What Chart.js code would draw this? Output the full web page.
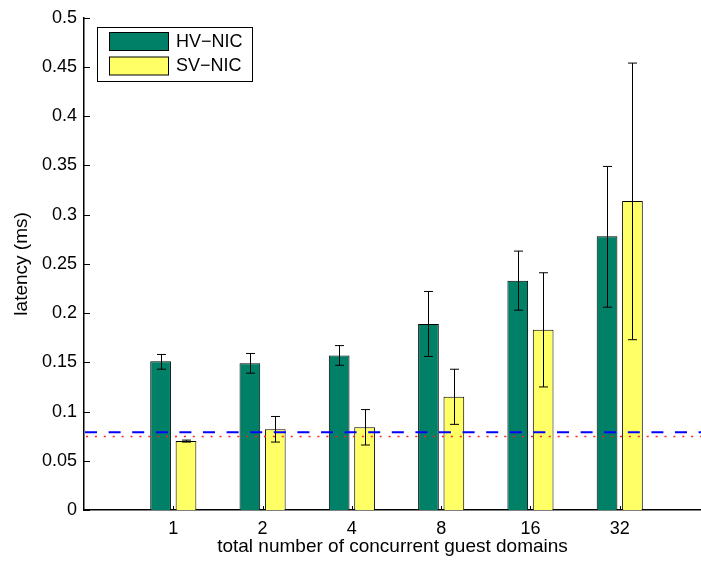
<!DOCTYPE html>
<html>
<head>
<meta charset="utf-8">
<script src="https://cdn.jsdelivr.net/npm/chart.js@4"></script>
<style>
  html, body { margin: 0; padding: 0; background: #fff; overflow: hidden; }
  #wrap { width: 701px; height: 561px; }
</style>
</head>
<body>
<div id="wrap"><canvas id="latencyChart"></canvas></div>
<script>
// Data
const categories = ['1', '2', '4', '8', '16', '32'];
const hvNic     = [0.151, 0.149, 0.157, 0.189, 0.233, 0.278];
const hvNicLow  = [0.143, 0.139, 0.147, 0.156, 0.203, 0.206];
const hvNicHigh = [0.158, 0.159, 0.167, 0.222, 0.263, 0.349];
const svNic     = [0.070, 0.082, 0.084, 0.115, 0.183, 0.314];
const svNicLow  = [0.069, 0.069, 0.066, 0.087, 0.125, 0.173];
const svNicHigh = [0.071, 0.095, 0.102, 0.143, 0.241, 0.454];
const yTicks = [0, 0.05, 0.1, 0.15, 0.2, 0.25, 0.3, 0.35, 0.4, 0.45, 0.5];
const refDashed = 0.079;   // blue dashed line
const refDotted = 0.0747;  // red dotted line

const FONT = '"Liberation Sans", Arial, Helvetica, sans-serif';

// Error bars drawn on top of the bars
const errorBars = {
    id: 'errorBars',
    afterDatasetsDraw(chart) {
        const ctx = chart.ctx;
        const y = chart.scales.y;
        const ranges = [[hvNicLow, hvNicHigh], [svNicLow, svNicHigh]];
        ctx.save();
        ctx.strokeStyle = '#000';
        ctx.lineWidth = 1;
        ranges.forEach((r, d) => {
            chart.getDatasetMeta(d).data.forEach((bar, i) => {
                const x = Math.round(bar.x) + 0.5;
                const y1 = y.getPixelForValue(r[0][i]);
                const y2 = y.getPixelForValue(r[1][i]);
                ctx.beginPath();
                ctx.moveTo(x, y1); ctx.lineTo(x, y2);
                ctx.moveTo(x - 4.5, y1); ctx.lineTo(x + 4.5, y1);
                ctx.moveTo(x - 4.5, y2); ctx.lineTo(x + 4.5, y2);
                ctx.stroke();
            });
        });
        ctx.restore();
    }
};

// Reference lines, inward tick marks and the legend box
const extras = {
    id: 'extras',
    afterDraw(chart) {
        const ctx = chart.ctx;
        const area = chart.chartArea;
        const xs = chart.scales.x, ys = chart.scales.y;
        ctx.save();

        // dashed blue
        let yy = ys.getPixelForValue(refDashed);
        ctx.strokeStyle = '#0000ff';
        ctx.lineWidth = 2;
        ctx.setLineDash([12, 11.6]);
        ctx.beginPath(); ctx.moveTo(area.left + 1, yy); ctx.lineTo(area.right, yy); ctx.stroke();

        // dotted red
        yy = Math.round(ys.getPixelForValue(refDotted)) + 0.5;
        ctx.strokeStyle = '#ff2020';
        ctx.lineWidth = 1.5;
        ctx.setLineDash([2, 6.9]);
        ctx.beginPath(); ctx.moveTo(area.left + 2, yy); ctx.lineTo(area.right, yy); ctx.stroke();
        ctx.setLineDash([]);

        // inward ticks
        ctx.strokeStyle = '#000';
        ctx.lineWidth = 1;
        ctx.beginPath();
        yTicks.forEach(v => {
            const p = Math.round(ys.getPixelForValue(v)) + 0.5;
            ctx.moveTo(area.left, p); ctx.lineTo(area.left + 6, p);
        });
        categories.forEach((c, i) => {
            const p = Math.round(xs.getPixelForValue(i + 1)) + 0.5;
            ctx.moveTo(p, area.bottom); ctx.lineTo(p, area.bottom - 4);
        });
        ctx.stroke();

        // legend
        const lx = 97.5, ly = 27.5, lw = 155, lh = 54;
        ctx.fillStyle = '#fff';
        ctx.fillRect(lx, ly, lw, lh);
        ctx.strokeRect(lx, ly, lw, lh);
        ctx.font = '18px ' + FONT;
        ctx.textBaseline = 'middle';
        chart.data.datasets.forEach((ds, i) => {
            const top = 32.5 + i * 24.5;
            ctx.fillStyle = ds.backgroundColor;
            ctx.fillRect(109.5, top, 59, 18);
            ctx.strokeRect(109.5, top, 59, 18);
            ctx.fillStyle = '#000';
            ctx.fillText(ds.label, 176, top + 9.5);
        });
        ctx.restore();
    }
};

const ctx = document.getElementById('latencyChart').getContext('2d');
const latencyChart = new Chart(ctx, {
    type: 'bar',
    data: {
        datasets: [{
            label: 'HV\u2212NIC',
            data: categories.map((c, i) => ({ x: i + 1, y: hvNic[i] })),
            backgroundColor: '#008066',
            borderColor: '#000',
            borderWidth: 1
        }, {
            label: 'SV\u2212NIC',
            data: categories.map((c, i) => ({ x: i + 1, y: svNic[i] })),
            backgroundColor: '#ffff66',
            borderColor: '#000',
            borderWidth: 1
        }]
    },
    options: {
        responsive: true,
        maintainAspectRatio: false,
        animation: false,
        categoryPercentage: 0.569,
        barPercentage: 0.815,
        layout: { padding: { top: 15, right: 0, left: 0, bottom: 0 } },
        plugins: {
            legend: { display: false },
            tooltip: { enabled: false }
        },
        scales: {
            x: {
                type: 'linear',
                offset: false,
                min: 0,
                max: 6.91,
                grid: { display: false, drawTicks: false, offset: false },
                border: { color: '#000', width: 1.5 },
                ticks: {
                    stepSize: 1,
                    autoSkip: false,
                    includeBounds: false,
                    maxRotation: 0,
                    padding: 8,
                    color: '#000',
                    font: { family: FONT, size: 18 },
                    callback: v => (Number.isInteger(v) && v >= 1 && v <= categories.length) ? categories[v - 1] : ''
                },
                title: {
                    display: true,
                    text: 'total number of concurrent guest domains',
                    color: '#000',
                    font: { family: FONT, size: 19 },
                    padding: { top: 0, bottom: 3 }
                },
                afterFit: s => { s.height = 51; }
            },
            y: {
                min: 0,
                max: 0.5,
                grid: { display: false, drawTicks: false },
                border: { color: '#000', width: 1.5 },
                afterBuildTicks: s => { s.ticks = yTicks.map(v => ({ value: v })); },
                ticks: {
                    padding: 7,
                    color: '#000',
                    font: { family: FONT, size: 18 },
                    callback: v => String(+v.toFixed(2))
                },
                title: {
                    display: true,
                    text: 'latency (ms)',
                    color: '#000',
                    font: { family: FONT, size: 19 },
                    padding: { top: 10, bottom: 0 }
                },
                afterFit: s => { s.width = 84; }
            }
        }
    },
    plugins: [errorBars, extras]
});
</script>
</body>
</html>
